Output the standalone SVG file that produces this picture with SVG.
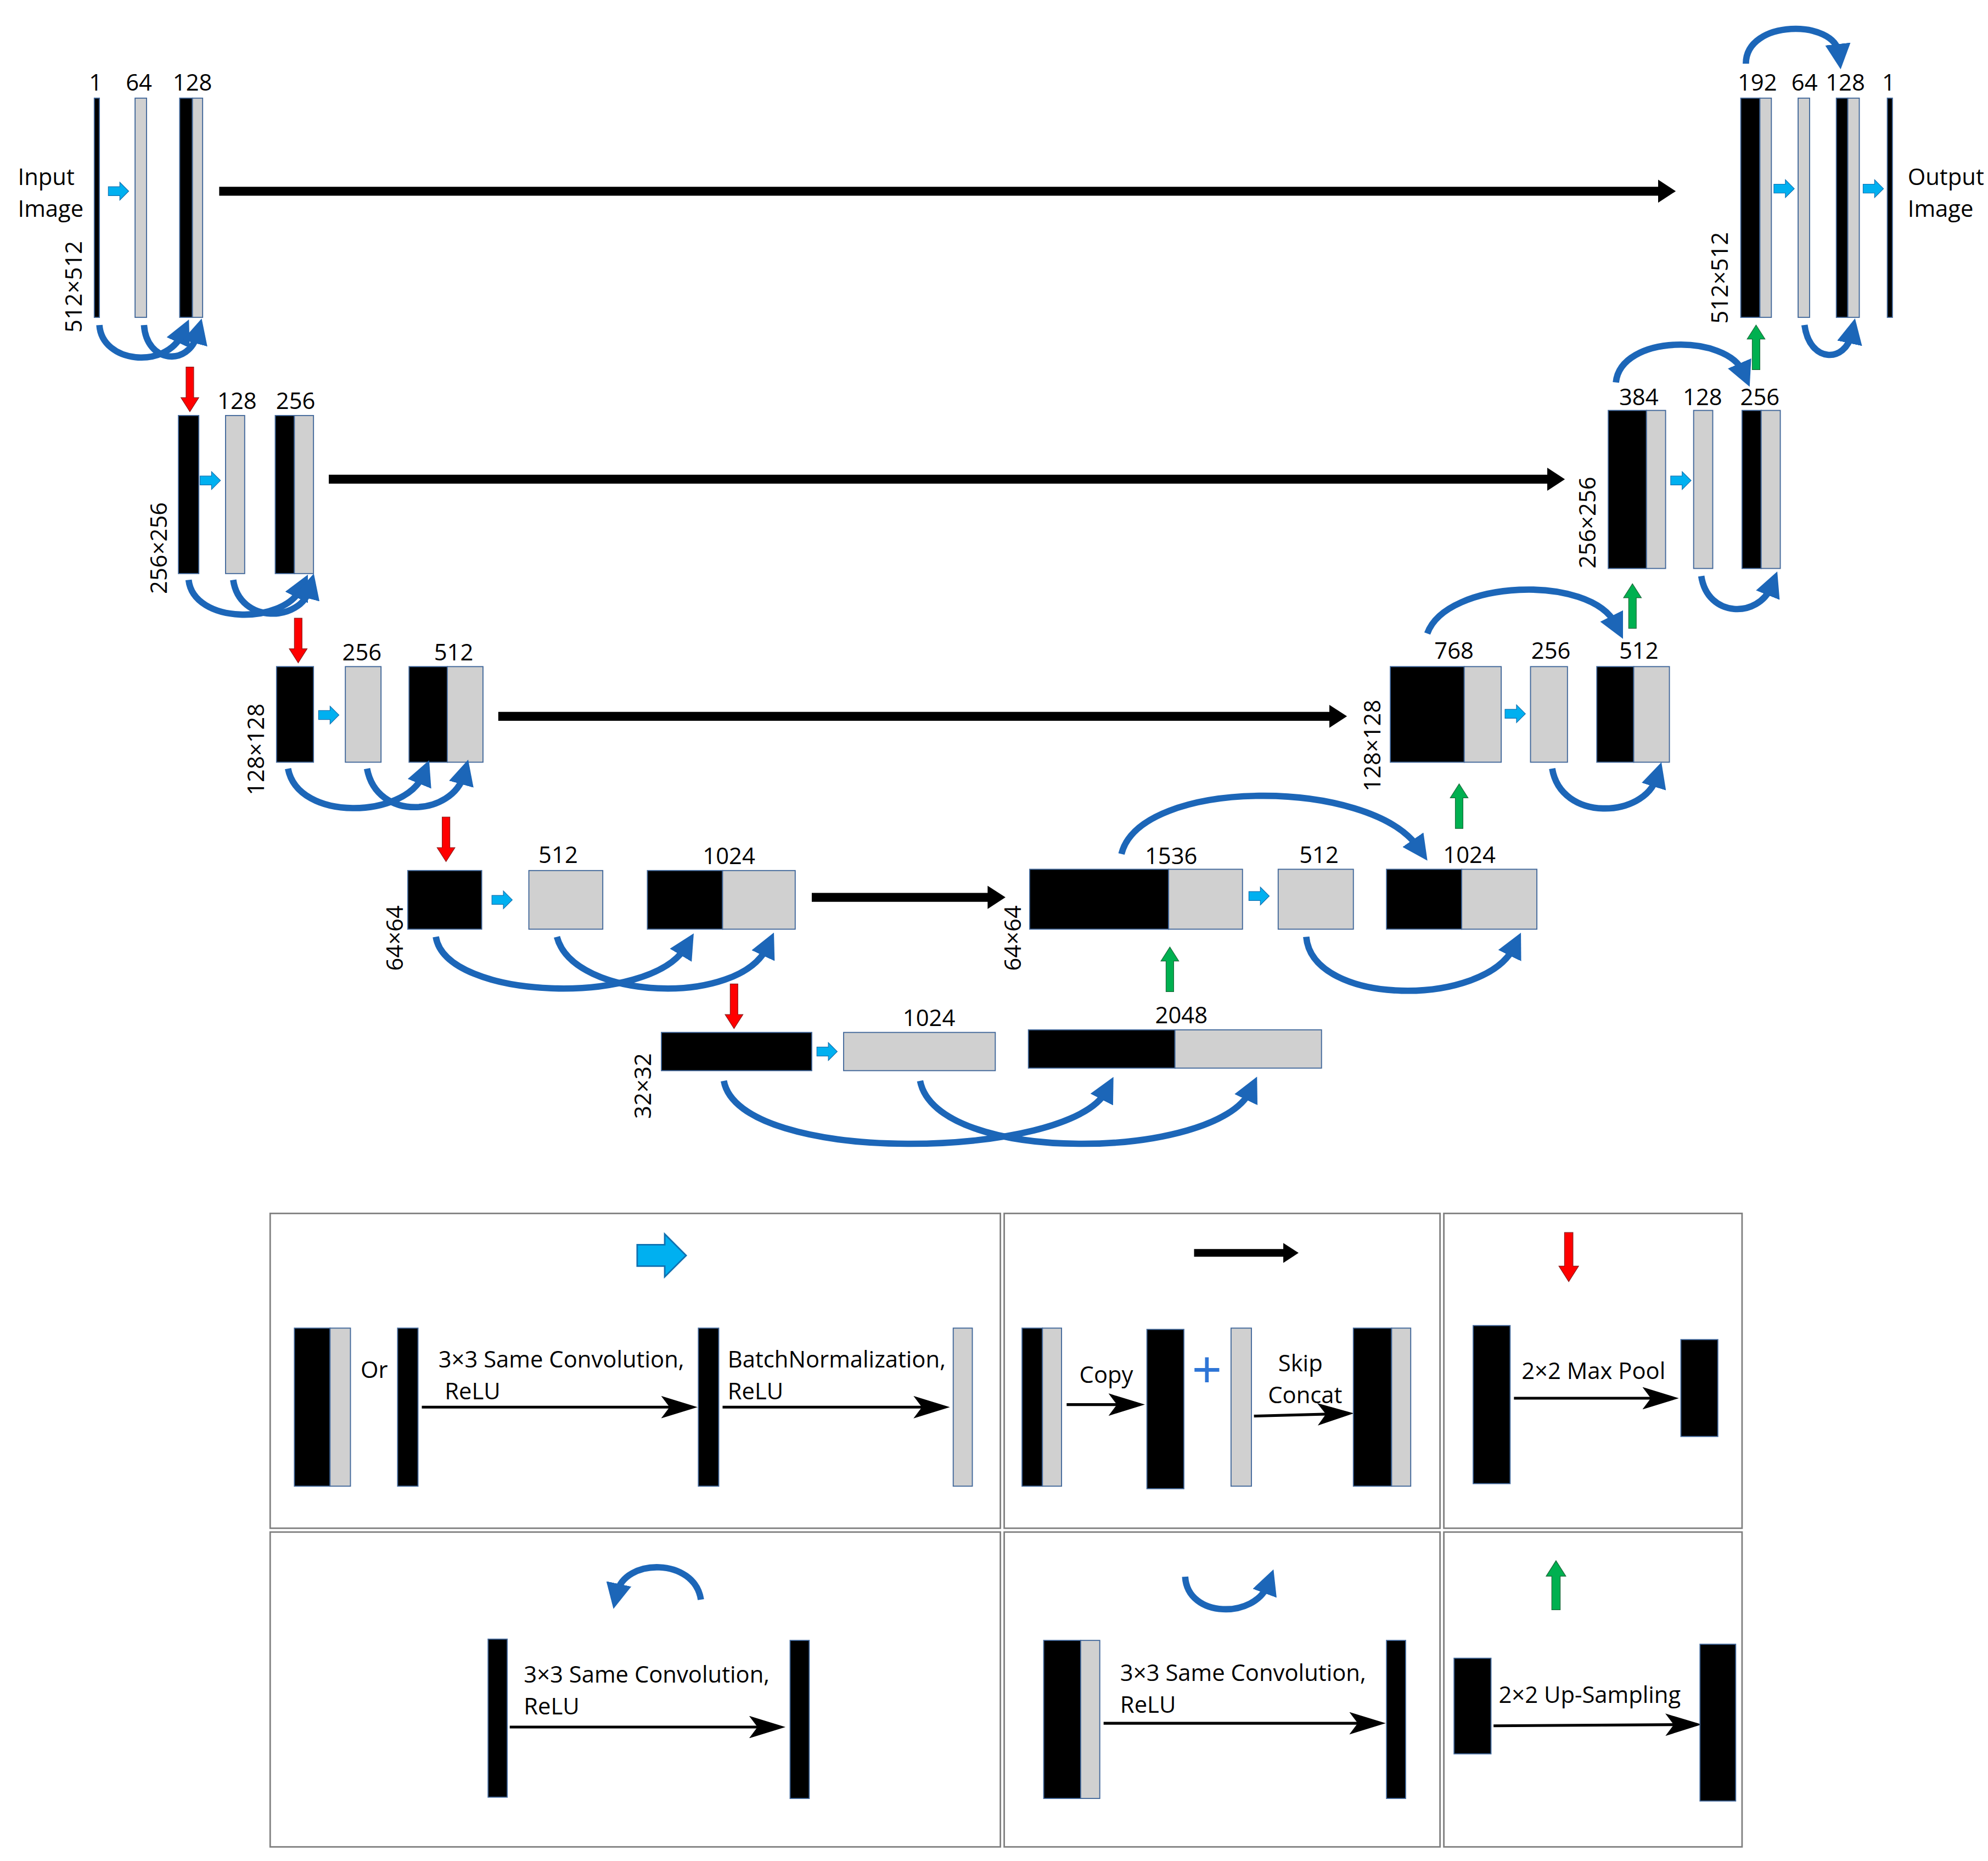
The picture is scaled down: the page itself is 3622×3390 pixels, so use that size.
<svg xmlns="http://www.w3.org/2000/svg" xmlns:xlink="http://www.w3.org/1999/xlink" width="3622" height="3390" viewBox="0 0 3622 3390">
<style>
.k{fill:#000;stroke:#41679a;stroke-width:0.8}
.g{fill:#d0d0d0;stroke:#41679a;stroke-width:0.8}
.t{font-family:"Open Sans","Liberation Sans",sans-serif;font-size:18px;fill:#000}
.tc{text-anchor:middle}
.arc{fill:none;stroke:#1c66b8;stroke-width:5;marker-end:url(#ah)}
.sk{stroke:#000;stroke-width:7;marker-end:url(#sh)}
.la{stroke:#000;stroke-width:2.2;fill:none;marker-end:url(#lh)}
.box{fill:#fff;stroke:#7f7f7f;stroke-width:1.2}
</style>
<defs>
<marker id="ah" markerWidth="4" markerHeight="4" refX="1.5" refY="2" orient="auto" markerUnits="strokeWidth"><path d="M0,0 L4,2 L0,4 Z" fill="#1c66b8"/></marker>
<marker id="sh" markerWidth="3" markerHeight="3" refX="1" refY="1.5" orient="auto" markerUnits="strokeWidth"><path d="M0,0.2 L2,1.5 L0,2.8 Z" fill="#000"/></marker>
<marker id="lh" markerWidth="14" markerHeight="8" refX="11" refY="4" orient="auto" markerUnits="strokeWidth"><path d="M0,0 L13,4 L0,8 L3,4 Z" fill="#000"/></marker>
<g id="ba"><polygon points="0,-3.5 9,-3.5 9,-7 16,0 9,7 9,3.5 0,3.5" fill="#00b0f0" stroke="#1070b0" stroke-width="0.5"/></g>
<g id="ra"><polygon points="-3,0 3,0 3,24 7,24 0,35 -7,24 -3,24" fill="#ff0000" stroke="#8a1a1a" stroke-width="0.5"/></g>
<g id="ga"><polygon points="-3,0 3,0 3,-24 7,-24 0,-35 -7,-24 -3,-24" fill="#00b050" stroke="#1a6a3a" stroke-width="0.5"/></g>
</defs>
<rect width="3622" height="3390" fill="#fff"/>
<g transform="scale(2.3218)">
<g id="level1-enc">
<rect class="k" x="74" y="77" width="4" height="172"/>
<rect class="g" x="106" y="77" width="9" height="172"/>
<rect class="k" x="141" y="77" width="10" height="172"/><rect class="g" x="151" y="77" width="8" height="172"/>
<text class="t tc" x="75" y="71">1</text><text class="t tc" x="109" y="71">64</text><text class="t tc" x="151" y="71">128</text>
<text class="t" x="14" y="145">Input</text><text class="t" x="14" y="170">Image</text>
<text class="t tc" transform="translate(64,225) rotate(-90)">512×512</text>
</g>
<g id="level1-dec">
<rect class="k" x="1366" y="77" width="15" height="172"/><rect class="g" x="1381" y="77" width="9" height="172"/>
<rect class="g" x="1411" y="77" width="9" height="172"/>
<rect class="k" x="1441" y="77" width="9" height="172"/><rect class="g" x="1450" y="77" width="9" height="172"/>
<rect class="k" x="1481" y="77" width="4" height="172"/>
<text class="t tc" x="1379" y="71">192</text><text class="t tc" x="1416" y="71">64</text><text class="t tc" x="1448" y="71">128</text><text class="t tc" x="1482" y="71">1</text>
<text class="t" x="1497" y="145">Output</text><text class="t" x="1497" y="170">Image</text>
<text class="t tc" transform="translate(1356,218) rotate(-90)">512×512</text>
</g>
<g id="level2-enc">
<rect class="k" x="140" y="326" width="16" height="124"/>
<rect class="g" x="177" y="326" width="15" height="124"/>
<rect class="k" x="216" y="326" width="15" height="124"/><rect class="g" x="231" y="326" width="15" height="124"/>
<text class="t tc" x="186" y="321">128</text><text class="t tc" x="232" y="321">256</text>
<text class="t tc" transform="translate(131,430) rotate(-90)">256×256</text>
</g>
<g id="level2-dec">
<rect class="k" x="1262" y="322" width="30" height="124"/><rect class="g" x="1292" y="322" width="15" height="124"/>
<rect class="g" x="1329" y="322" width="15" height="124"/>
<rect class="k" x="1367" y="322" width="15" height="124"/><rect class="g" x="1382" y="322" width="15" height="124"/>
<text class="t tc" x="1286" y="318">384</text><text class="t tc" x="1336" y="318">128</text><text class="t tc" x="1381" y="318">256</text>
<text class="t tc" transform="translate(1252,410) rotate(-90)">256×256</text>
</g>
<g id="level3-enc">
<rect class="k" x="217" y="523" width="29" height="75"/>
<rect class="g" x="271" y="523" width="28" height="75"/>
<rect class="k" x="321" y="523" width="30" height="75"/><rect class="g" x="351" y="523" width="28" height="75"/>
<text class="t tc" x="284" y="518">256</text><text class="t tc" x="356" y="518">512</text>
<text class="t tc" transform="translate(207,588) rotate(-90)">128×128</text>
</g>
<g id="level3-dec">
<rect class="k" x="1091" y="523" width="58" height="75"/><rect class="g" x="1149" y="523" width="29" height="75"/>
<rect class="g" x="1201" y="523" width="29" height="75"/>
<rect class="k" x="1253" y="523" width="29" height="75"/><rect class="g" x="1282" y="523" width="28" height="75"/>
<text class="t tc" x="1141" y="517">768</text><text class="t tc" x="1217" y="517">256</text><text class="t tc" x="1286" y="517">512</text>
<text class="t tc" transform="translate(1083,585) rotate(-90)">128×128</text>
</g>
<g id="level4-enc">
<rect class="k" x="320" y="683" width="58" height="46"/>
<rect class="g" x="415" y="683" width="58" height="46"/>
<rect class="k" x="508" y="683" width="59" height="46"/><rect class="g" x="567" y="683" width="57" height="46"/>
<text class="t tc" x="438" y="677">512</text><text class="t tc" x="572" y="678">1024</text>
<text class="t tc" transform="translate(316,736) rotate(-90)">64×64</text>
</g>
<g id="level4-dec">
<rect class="k" x="808" y="682" width="109" height="47"/><rect class="g" x="917" y="682" width="58" height="47"/>
<rect class="g" x="1003" y="682" width="59" height="47"/>
<rect class="k" x="1088" y="682" width="59" height="47"/><rect class="g" x="1147" y="682" width="59" height="47"/>
<text class="t tc" x="919" y="678">1536</text><text class="t tc" x="1035" y="677">512</text><text class="t tc" x="1153" y="677">1024</text>
<text class="t tc" transform="translate(801,736) rotate(-90)">64×64</text>
</g>
<g id="level5">
<rect class="k" x="519" y="810" width="118" height="30"/>
<rect class="g" x="662" y="810" width="119" height="30"/>
<rect class="k" x="807" y="808" width="115" height="30"/><rect class="g" x="922" y="808" width="115" height="30"/>
<text class="t tc" x="729" y="805">1024</text><text class="t tc" x="927" y="803">2048</text>
<text class="t tc" transform="translate(511,852) rotate(-90)">32×32</text>
</g>
<g id="connectors">
<use href="#ba" x="85" y="150"/><use href="#ba" x="1392" y="148"/><use href="#ba" x="1462" y="148"/>
<use href="#ba" x="157" y="377"/><use href="#ba" x="1311" y="377"/>
<use href="#ba" x="250" y="561"/><use href="#ba" x="1181" y="560"/>
<use href="#ba" x="386" y="706"/><use href="#ba" x="980" y="703"/>
<use href="#ba" x="641" y="825"/>
<line class="sk" x1="172" y1="150" x2="1308" y2="150"/>
<line class="sk" x1="258" y1="376" x2="1221" y2="376"/>
<line class="sk" x1="391" y1="562" x2="1050" y2="562"/>
<line class="sk" x1="637" y1="704" x2="782" y2="704"/>
<use href="#ra" x="149" y="288"/><use href="#ra" x="234" y="485"/><use href="#ra" x="350" y="641"/><use href="#ra" x="576" y="772"/>
<use href="#ga" x="1378" y="290"/><use href="#ga" x="1281" y="493"/><use href="#ga" x="1145" y="650"/><use href="#ga" x="918" y="778"/>
<path class="arc" d="M78,255 C80,285 130,290 143,262"/>
<path class="arc" d="M113,255 C115,285 148,288 155,262"/>
<path class="arc" d="M1370,50 C1370,15 1440,15 1443,42"/>
<path class="arc" d="M1416,255 C1420,285 1448,285 1453,262"/>
<path class="arc" d="M148,455 C152,490 222,490 236,462"/>
<path class="arc" d="M183,455 C188,490 236,488 243,462"/>
<path class="arc" d="M1268,300 C1272,262 1355,262 1368,292"/>
<path class="arc" d="M1335,452 C1340,485 1380,485 1390,460"/>
<path class="arc" d="M226,603 C234,645 318,642 332,608"/>
<path class="arc" d="M288,603 C296,645 355,640 364,608"/>
<path class="arc" d="M1120,497 C1135,455 1248,450 1268,490"/>
<path class="arc" d="M1218,603 C1225,645 1290,642 1300,610"/>
<path class="arc" d="M342,735 C350,785 510,790 538,743"/>
<path class="arc" d="M437,735 C450,785 580,790 602,743"/>
<path class="arc" d="M880,670 C895,610 1075,610 1113,665"/>
<path class="arc" d="M1025,735 C1030,790 1165,790 1188,743"/>
<path class="arc" d="M568,848 C580,915 840,910 868,856"/>
<path class="arc" d="M722,848 C735,915 955,910 981,856"/>
</g>
<g id="legend">
<rect class="box" x="212" y="952" width="573" height="247"/>
<rect class="box" x="788" y="952" width="342" height="247"/>
<rect class="box" x="1133" y="952" width="234" height="247"/>
<rect class="box" x="212" y="1202" width="573" height="247"/>
<rect class="box" x="788" y="1202" width="342" height="247"/>
<rect class="box" x="1133" y="1202" width="234" height="247"/>
<g transform="translate(500,985) scale(2.4)"><use href="#ba"/></g>
<rect class="k" x="231" y="1042" width="28" height="124"/><rect class="g" x="259" y="1042" width="16" height="124"/>
<text class="t" x="283" y="1081">Or</text>
<rect class="k" x="312" y="1042" width="16" height="124"/>
<text class="t" x="344" y="1073">3×3 Same Convolution,</text><text class="t" x="349" y="1098">ReLU</text>
<line class="la" x1="331" y1="1104" x2="543" y2="1104"/>
<rect class="k" x="548" y="1042" width="16" height="124"/>
<text class="t" x="571" y="1073">BatchNormalization,</text><text class="t" x="571" y="1098">ReLU</text>
<line class="la" x1="567" y1="1104" x2="741" y2="1104"/>
<rect class="g" x="748" y="1042" width="15" height="124"/>
<line class="sk" x1="937" y1="983" x2="1013" y2="983" style="stroke-width:6"/>
<rect class="k" x="802" y="1042" width="16" height="124"/><rect class="g" x="818" y="1042" width="15" height="124"/>
<text class="t" x="847" y="1085">Copy</text>
<line class="la" x1="837" y1="1102" x2="894" y2="1102"/>
<rect class="k" x="900" y="1043" width="29" height="125"/>
<text x="947" y="1088" style="font-family:'Liberation Sans',sans-serif;font-size:40px;fill:#2e75d6;text-anchor:middle">+</text>
<rect class="g" x="966" y="1042" width="16" height="124"/>
<text class="t" x="1003" y="1076">Skip</text><text class="t" x="995" y="1101">Concat</text>
<line class="la" x1="984" y1="1111" x2="1058" y2="1109"/>
<rect class="k" x="1062" y="1042" width="30" height="124"/><rect class="g" x="1092" y="1042" width="15" height="124"/>
<g transform="translate(1231,967) scale(1.1)"><use href="#ra"/></g>
<rect class="k" x="1156" y="1040" width="29" height="124"/>
<text class="t" x="1194" y="1082">2×2 Max Pool</text>
<line class="la" x1="1188" y1="1097" x2="1313" y2="1097"/>
<rect class="k" x="1319" y="1051" width="29" height="76"/>
<path class="arc" d="M550,1255 C545,1222 490,1222 484,1250"/>
<rect class="k" x="383" y="1286" width="15" height="124"/>
<text class="t" x="411" y="1320">3×3 Same Convolution,</text><text class="t" x="411" y="1345">ReLU</text>
<line class="la" x1="400" y1="1355" x2="612" y2="1355"/>
<rect class="k" x="620" y="1287" width="15" height="124"/>
<path class="arc" d="M930,1237 C932,1270 985,1270 995,1243"/>
<rect class="k" x="819" y="1287" width="29" height="124"/><rect class="g" x="848" y="1287" width="15" height="124"/>
<text class="t" x="879" y="1319">3×3 Same Convolution,</text><text class="t" x="879" y="1344">ReLU</text>
<line class="la" x1="866" y1="1352" x2="1083" y2="1352"/>
<rect class="k" x="1088" y="1287" width="15" height="124"/>
<g transform="translate(1221,1263) scale(1.1)"><use href="#ga"/></g>
<rect class="k" x="1141" y="1301" width="29" height="75"/>
<text class="t" x="1176" y="1336">2×2 Up-Sampling</text>
<line class="la" x1="1172" y1="1354" x2="1331" y2="1353"/>
<rect class="k" x="1334" y="1290" width="28" height="123"/>
</g>
</g>
</svg>
